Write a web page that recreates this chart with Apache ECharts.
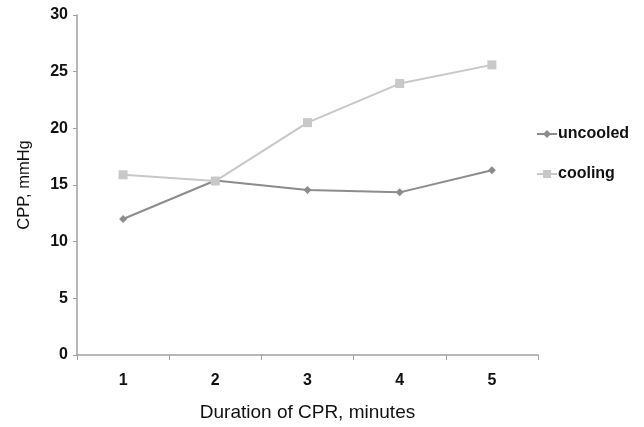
<!DOCTYPE html>
<html><head><meta charset="utf-8">
<script src="https://cdn.jsdelivr.net/npm/echarts@6/dist/echarts.min.js"></script>
<style>html,body{margin:0;padding:0;background:#fff}#c{width:644px;height:427px}</style>
</head><body><div id="c"></div>
<script>
const categories = ['1','2','3','4','5'];
const uncooled = [12.0, 15.4, 14.55, 14.35, 16.3];
const cooling = [15.9, 15.35, 20.5, 23.95, 25.6];
const seriesNames = ['uncooled','cooling'];
const yTicks = {min:0, max:30, interval:5};
const xTitle = 'Duration of CPR, minutes';
const yTitle = 'CPP, mmHg';

const chart = echarts.init(document.getElementById('c'), null, {renderer:'canvas'});
const axisGray = '#a0a0a0';
chart.setOption({
  animation:false,
  backgroundColor:'#fff',
  grid:{left:77, right:106, top:15, bottom:67},
  legend:{
    orient:'vertical', left:531, top:121, itemGap:24, itemWidth:20, itemHeight:10,
    data:seriesNames,
    textStyle:{fontFamily:'Liberation Sans, Arial', fontWeight:'bold', fontSize:16, color:'#111', padding:[0,0,0,-4]}
  },
  xAxis:{
    type:'category', data:categories, boundaryGap:true,
    name:xTitle, nameLocation:'middle', nameGap:48,
    nameTextStyle:{fontFamily:'Liberation Sans, Arial', fontSize:19, color:'#111'},
    axisLine:{lineStyle:{color:axisGray, width:1.5}},
    axisTick:{show:true, inside:false, length:5, lineStyle:{color:axisGray}},
    axisLabel:{fontFamily:'Liberation Sans, Arial', fontWeight:'bold', fontSize:16, color:'#111', margin:18},
    splitLine:{show:false}
  },
  yAxis:{
    type:'value', min:yTicks.min, max:yTicks.max, interval:yTicks.interval,
    name:yTitle, nameLocation:'middle', nameGap:44, nameRotate:90,
    nameTextStyle:{fontFamily:'Liberation Sans, Arial', fontSize:16.5, color:'#111'},
    axisLine:{show:true, lineStyle:{color:axisGray, width:1.5}},
    axisTick:{show:true, length:4, lineStyle:{color:axisGray}},
    axisLabel:{fontFamily:'Liberation Sans, Arial', fontWeight:'bold', fontSize:16, color:'#111', margin:9},
    splitLine:{show:false}
  },
  series:[
    {name:seriesNames[0], type:'line', data:uncooled, symbol:'diamond', symbolSize:8,
     lineStyle:{color:'#8c8c8c', width:2}, itemStyle:{color:'#8c8c8c'}},
    {name:seriesNames[1], type:'line', data:cooling, symbol:'rect', symbolSize:9,
     lineStyle:{color:'#c8c8c8', width:2}, itemStyle:{color:'#c8c8c8'}}
  ]
});
</script></body></html>
